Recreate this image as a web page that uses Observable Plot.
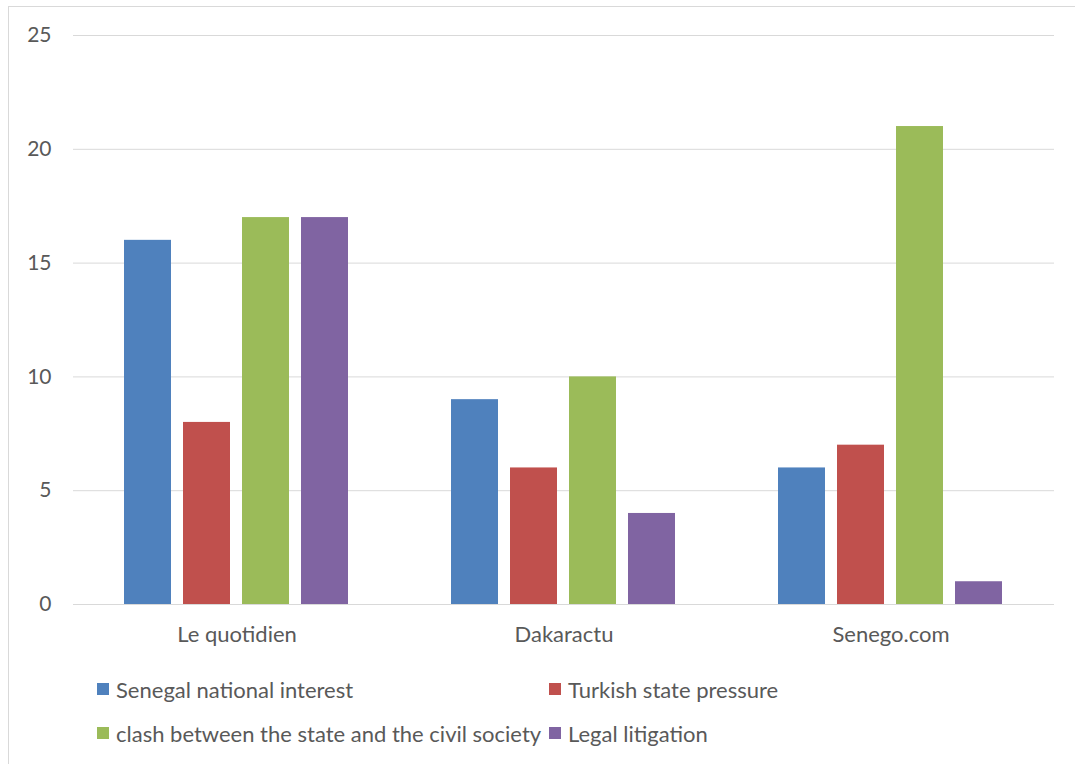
<!DOCTYPE html>
<html>
<head>
<meta charset="utf-8">
<script src="https://cdn.jsdelivr.net/npm/d3@7"></script>
<script src="https://cdn.jsdelivr.net/npm/@observablehq/plot@0.6"></script>
<style>
  html, body { margin: 0; padding: 0; background: #fff; }
  body { width: 1075px; height: 764px; position: relative; overflow: hidden; font-family: Lato, "Open Sans", sans-serif; }
  #frame { position: absolute; left: 8px; top: 6px; width: 1080px; height: 780px; border: 1px solid #d9d9d9; box-sizing: border-box; }
  #chart { position: absolute; left: 0; top: 0; }
  #chart svg text { font-size: 21px; fill: #595959; }
  #chart svg g[aria-label="fx-axis tick label"] text { font-size: 22px; }
  #legend { position: absolute; left: 97px; top: 675px; width: 900px; display: grid; grid-template-columns: 452px 400px; row-gap: 16px; color: #595959; font-size: 22px; }
  .item { display: flex; align-items: center; height: 28px; white-space: nowrap; }
  .sw { width: 12px; height: 12px; margin-right: 7px; flex: none; }
</style>
</head>
<body>
<div id="frame"></div>
<div id="chart"></div>
<div id="legend"></div>
<script>
const sites = ["Le quotidien", "Dakaractu", "Senego.com"];
const seriesNames = ["Senegal national interest", "Turkish state pressure", "clash between the state and the civil society", "Legal litigation"];
const seriesColors = ["#4f81bd", "#c0504d", "#9bbb59", "#8064a2"];
const senegalInterest = [16, 9, 6];
const turkishPressure = [8, 6, 7];
const clashStateCivil = [17, 10, 21];
const legalLitigation = [17, 4, 1];
const yTicks = [0, 5, 10, 15, 20, 25];

const seriesValues = [senegalInterest, turkishPressure, clashStateCivil, legalLitigation];
const data = [];
sites.forEach((s, i) => seriesValues.forEach((vals, j) => data.push({site: s, series: seriesNames[j], value: vals[i]})));

const chart = Plot.plot({
  width: 1075,
  height: 660,
  marginLeft: 72,
  marginRight: 21,
  marginTop: 35,
  marginBottom: 56,
  style: {fontFamily: "Lato, 'Open Sans', sans-serif", fontSize: "21px", color: "#595959", background: "transparent", overflow: "visible"},
  fx: {domain: sites, padding: 0, label: null, tickSize: 0, tickPadding: 22},
  x: {domain: seriesNames, axis: null, paddingInner: 0.2, paddingOuter: 0.85},
  y: {domain: [0, 25], ticks: yTicks, tickSize: 0, tickPadding: 22, label: null},
  color: {domain: seriesNames, range: seriesColors},
  marks: [
    Plot.ruleY(yTicks, {stroke: "#d9d9d9", strokeWidth: 1}),
    Plot.barY(data, {fx: "site", x: "series", y: "value", fill: "series"})
  ]
});
document.getElementById("chart").appendChild(chart);

const legend = document.getElementById("legend");
seriesNames.forEach((name, i) => {
  const it = document.createElement("div");
  it.className = "item";
  const sw = document.createElement("span");
  sw.className = "sw";
  sw.style.background = seriesColors[i];
  const tx = document.createElement("span");
  tx.textContent = name;
  it.appendChild(sw);
  it.appendChild(tx);
  legend.appendChild(it);
});
</script>
</body>
</html>
